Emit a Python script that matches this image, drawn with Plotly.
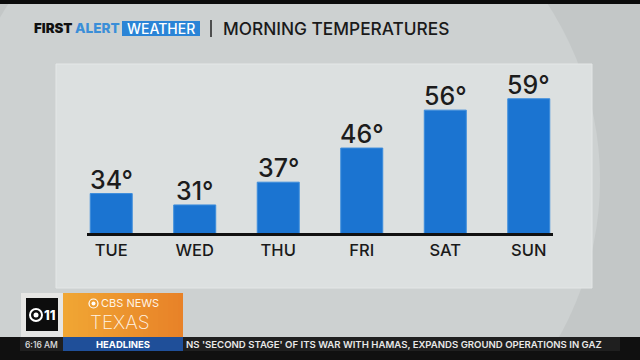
import plotly.graph_objects as go

days = ["TUE", "WED", "THU", "FRI", "SAT", "SUN"]
temps = [34, 31, 37, 46, 56, 59]

W, H = 640, 360
FONT = "Inter"


def px(x):
    return x / W


def py(y):
    return 1 - y / H


def rect(x0, y0, x1, y1, fill, line=None, lw=0, layer="below"):
    return dict(type="rect", xref="paper", yref="paper",
                x0=px(x0), x1=px(x1), y0=py(y1), y1=py(y0),
                fillcolor=fill, line=dict(color=line or fill, width=lw),
                layer=layer)


def ann(text, x, y, size, color, weight=400, xanchor="left", family=FONT):
    return dict(text=text, x=px(x), y=py(y), xref="paper", yref="paper",
                xanchor=xanchor, yanchor="middle", showarrow=False,
                font=dict(family=family, size=size, color=color, weight=weight))


fig = go.Figure(go.Bar(
    x=days, y=temps,
    marker=dict(color="#1b74d1", line=dict(color="#3d8ddc", width=1)),
    hoverinfo="skip",
))

shapes = []
# lighter circular background area
shapes.append(dict(type="circle", xref="paper", yref="paper",
                   x0=px(278 - 322), x1=px(278 + 322),
                   y0=py(180 + 322), y1=py(180 - 322),
                   fillcolor="#cdd1d1", line=dict(width=0), layer="below"))
# top black band
shapes.append(rect(0, 0, 640, 4, "#0b0b0b"))
# panel
shapes.append(rect(56, 64, 592, 288, "#dce0e0", line="#e4e7e7", lw=1))
# header box
shapes.append(rect(122, 21, 200, 36, "#2a84d6"))
shapes.append(dict(type="line", xref="paper", yref="paper",
                   x0=px(211), x1=px(211), y0=py(37), y1=py(20),
                   line=dict(color="#222222", width=1.5), layer="below"))
# bottom ticker
shapes.append(rect(0, 337, 640, 360, "#101010"))
shapes.append(rect(20, 337, 620, 351, "#1f1f1f"))
shapes.append(rect(63, 337, 183, 351, "#1f4f99"))
# logo box
shapes.append(rect(21, 293, 63, 337, "#e6e6e4"))
shapes.append(rect(26, 298, 58, 331, "#0d0d0d"))
# orange gradient box (stripes)
n = 24
c0 = (240, 166, 52)
c1 = (232, 130, 40)
for i in range(n):
    t = i / (n - 1)
    c = tuple(int(round(c0[k] + (c1[k] - c0[k]) * t)) for k in range(3))
    x0 = 63 + 120 * i / n
    x1 = 63 + 120 * (i + 1) / n + 0.6
    shapes.append(rect(x0, 293, min(x1, 183), 337, "rgb(%d,%d,%d)" % c))
# CBS eye
shapes.append(dict(type="circle", xref="paper", yref="paper",
                   x0=px(89), x1=px(98), y0=py(308), y1=py(299),
                   line=dict(color="white", width=1.2), fillcolor="rgba(0,0,0,0)", layer="above"))
shapes.append(dict(type="circle", xref="paper", yref="paper",
                   x0=px(91.5), x1=px(95.5), y0=py(305.5), y1=py(301.5),
                   line=dict(color="white", width=0), fillcolor="white", layer="above"))
# logo eye
shapes.append(dict(type="circle", xref="paper", yref="paper",
                   x0=px(30), x1=px(42), y0=py(321), y1=py(309),
                   line=dict(color="white", width=2), fillcolor="rgba(0,0,0,0)", layer="above"))
shapes.append(dict(type="circle", xref="paper", yref="paper",
                   x0=px(33.5), x1=px(38.5), y0=py(317.5), y1=py(312.5),
                   line=dict(width=0), fillcolor="white", layer="above"))

annotations = [
    ann("FIRST", 32, 28.5, 13.3, "#111111", 900),
    ann("ALERT", 73, 28.5, 13.6, "#3a8ed8", 800),
    ann("WEATHER", 161, 28.5, 14, "#ffffff", 500, xanchor="center"),
    ann("MORNING TEMPERATURES", 221, 28.5, 17.3, "#1a1a1a", 500),
    ann("CBS NEWS", 99, 303, 11, "#fff4e6", 400),
    ann("TEXAS", 88, 322.5, 19, "#fff4e6", 200),
    ann("11", 42, 315, 13, "#ffffff", 800),
    ann("6:16 AM", 41, 344.5, 8.5, "#e0e0e0", 500, xanchor="center"),
    ann("HEADLINES", 123, 344.5, 9.5, "#ffffff", 700, xanchor="center"),
    ann("NS 'SECOND STAGE' OF ITS WAR WITH HAMAS, EXPANDS GROUND OPERATIONS IN GAZ",
        184, 344, 9.6, "#e8e8e8", 600),
]

# value labels sitting on top of each bar
for d, t in zip(days, temps):
    annotations.append(dict(
        text=f"{t}°", x=d, y=t, xref="x", yref="y",
        xanchor="center", yanchor="bottom", yshift=-3, showarrow=False,
        font=dict(family=FONT, size=25, color="#1c1c1c", weight=500)))

fig.update_layout(
    width=W, height=H,
    margin=dict(l=0, r=0, t=0, b=0),
    paper_bgcolor="#c3c7c7",
    plot_bgcolor="rgba(0,0,0,0)",
    showlegend=False,
    bargap=0.497,
    shapes=shapes,
    annotations=annotations,
    xaxis=dict(domain=[87 / W, 553 / W], range=[-0.29, 5.29],
               showline=True, linecolor="#111111", linewidth=3,
               ticks="", showgrid=False, zeroline=False, fixedrange=True,
               tickfont=dict(family=FONT, size=16.5, color="#1a1a1a", weight=500)),
    yaxis=dict(domain=[(H - 233) / H, (H - 65) / H], range=[23.6, 67.9],
               showgrid=False, zeroline=False, showticklabels=False, showline=False,
               fixedrange=True),
)

fig.write_html("out.html", config={"displayModeBar": False},
               post_script="document.body.style.margin='0';document.body.style.overflow='hidden';")
